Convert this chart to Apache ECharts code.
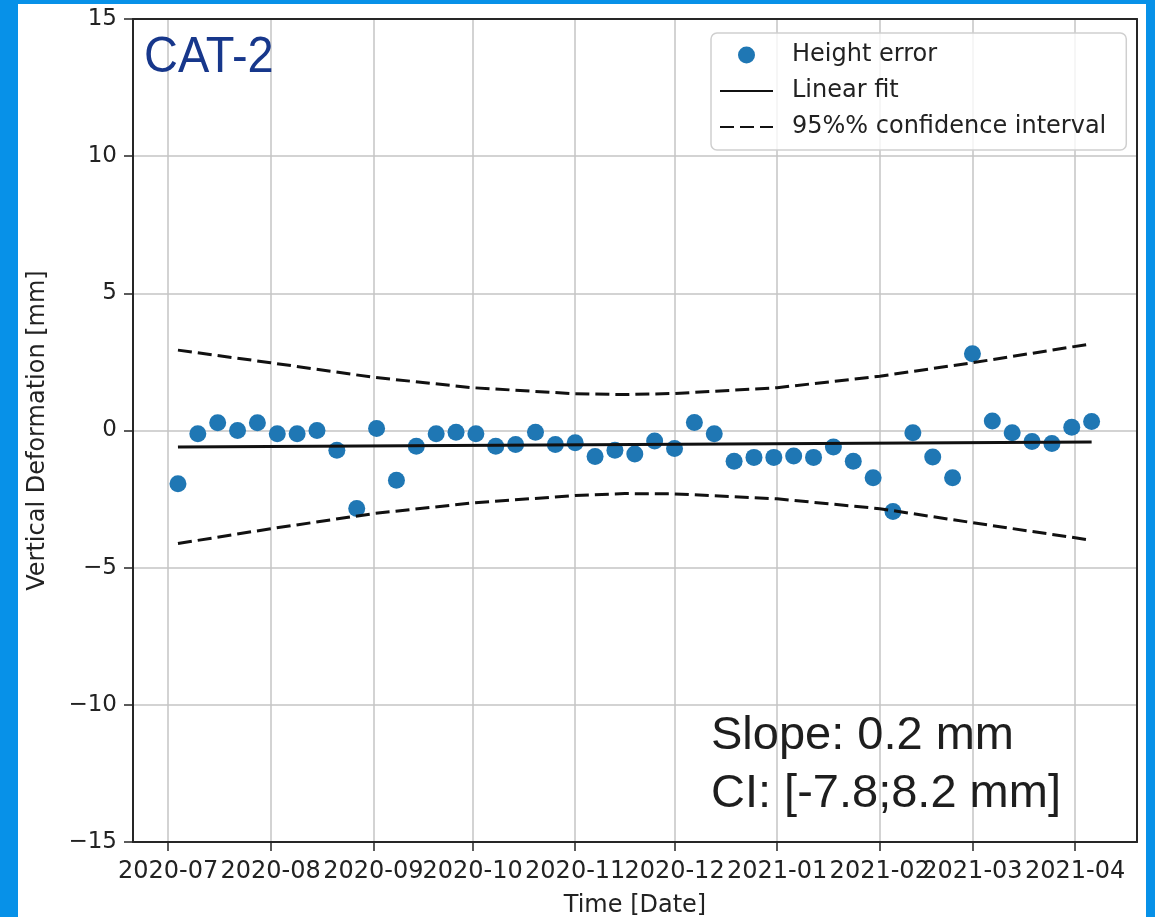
<!DOCTYPE html>
<html>
<head>
<meta charset="utf-8">
<script src="https://cdn.jsdelivr.net/npm/echarts@6/dist/echarts.min.js"></script>
<style>
  html, body { margin: 0; padding: 0; }
  body { width: 1155px; height: 917px; background: #0791e8; position: relative; overflow: hidden; }
  #paper { position: absolute; left: 18px; top: 4px; width: 1128px; height: 913px; background: #ffffff; }
  #chart { position: absolute; left: 0; top: 0; width: 1155px; height: 917px; }
</style>
</head>
<body>
<div id="paper"></div>
<div id="chart"></div>
<script>
// ---- data ----
const obsDates = [
  '2020-07-04','2020-07-10','2020-07-16','2020-07-22','2020-07-28',
  '2020-08-03','2020-08-09','2020-08-15','2020-08-21','2020-08-27',
  '2020-09-02','2020-09-08','2020-09-14','2020-09-20','2020-09-26',
  '2020-10-02','2020-10-08','2020-10-14','2020-10-20','2020-10-26',
  '2020-11-01','2020-11-07','2020-11-13','2020-11-19','2020-11-25',
  '2020-12-01','2020-12-07','2020-12-13','2020-12-19','2020-12-25',
  '2020-12-31','2021-01-06','2021-01-12','2021-01-18','2021-01-24',
  '2021-01-30','2021-02-05','2021-02-11','2021-02-17','2021-02-23',
  '2021-03-01','2021-03-07','2021-03-13','2021-03-19','2021-03-25',
  '2021-03-31','2021-04-06'
];
const heightError = [
  -1.94, -0.12, 0.28, 0.00, 0.28,
  -0.12, -0.12, 0.00, -0.72, -2.84,
  0.07, -1.81, -0.57, -0.12, -0.06,
  -0.12, -0.57, -0.51, -0.06, -0.51,
  -0.45, -0.95, -0.72, -0.86, -0.38,
  -0.66, 0.29, -0.12, -1.12, -0.98,
  -0.98, -0.93, -0.98, -0.60, -1.12,
  -1.72, -2.95, -0.08, -0.97, -1.72,
  2.80, 0.35, -0.08, -0.40, -0.47,
  0.12, 0.33
];
const fitDates = ['2020-07-04', '2021-04-06'];
const fitValues = [-0.60, -0.42];
const ciDates = ['2020-07-04','2020-08-01','2020-09-01','2020-10-01','2020-11-01','2020-11-16',
                 '2020-12-01','2021-01-01','2021-02-01','2021-03-01','2021-04-06'];
const ciUpper = [2.93, 2.47, 1.94, 1.56, 1.34, 1.31, 1.35, 1.56, 1.98, 2.47, 3.16];
const ciLower = [-4.12, -3.58, -3.03, -2.64, -2.37, -2.30, -2.31, -2.49, -2.85, -3.36, -4.00];
const yTicks = [-15, -10, -5, 0, 5, 10, 15];
const xRange = ['2020-06-20T10:00:00', '2021-04-19T17:00:00'];
const seriesNames = ['Height error', 'Linear fit', '95%% confidence interval'];
const axisNames = { x: 'Time [Date]', y: 'Vertical Deformation [mm]' };
const panelTitle = 'CAT-2';
const noteLines = ['Slope: 0.2 mm', 'CI: [-7.8;8.2 mm]'];

// ---- chart ----
const DAY = 86400000;
const pair = (xs, ys) => xs.map((d, i) => [d, ys[i]]);
const tickFont = 'DejaVu Sans';
const spine = { color: '#262626', width: 2 };
const chart = echarts.init(document.getElementById('chart'), null, { renderer: 'canvas' });

const hiddenAxisBits = {
  axisTick: { show: false }, axisLabel: { show: false }, splitLine: { show: false }
};

const option = {
  animation: false,
  backgroundColor: 'transparent',
  grid: {
    left: 133, right: 18, top: 19, bottom: 75,
    show: false, containLabel: false, outerBoundsMode: 'none'
  },
  xAxis: [
    {
      type: 'time',
      min: xRange[0], max: xRange[1],
      minInterval: 28 * DAY, maxInterval: 31 * DAY,
      name: axisNames.x, nameLocation: 'middle', nameGap: 52,
      nameTextStyle: { fontFamily: tickFont, fontSize: 24, color: '#222' },
      axisLine: { show: true, onZero: false, lineStyle: spine },
      axisTick: { show: true, inside: false, length: 9, lineStyle: { color: '#262626', width: 1.5 } },
      axisLabel: {
        formatter: '{yyyy}-{MM}', fontFamily: tickFont, fontSize: 24, color: '#222', margin: 18,
        showMinLabel: false, showMaxLabel: false, hideOverlap: false
      },
      splitLine: { show: true, lineStyle: { color: '#c4c4c4', width: 1.5 } },
      minorTick: { show: false }, minorSplitLine: { show: false }
    },
    Object.assign({
      type: 'time', position: 'top', min: xRange[0], max: xRange[1],
      axisLine: { show: true, onZero: false, lineStyle: spine }
    }, hiddenAxisBits)
  ],
  yAxis: [
    {
      type: 'value',
      min: yTicks[0], max: yTicks[yTicks.length - 1], interval: yTicks[1] - yTicks[0],
      name: axisNames.y, nameLocation: 'middle', nameGap: 83,
      nameTextStyle: { fontFamily: tickFont, fontSize: 24, color: '#222' },
      axisLine: { show: true, onZero: false, lineStyle: spine },
      axisTick: { show: true, inside: false, length: 9, lineStyle: { color: '#262626', width: 1.5 } },
      axisLabel: {
        fontFamily: tickFont, fontSize: 23, color: '#222', margin: 16,
        formatter: v => (v < 0 ? '\u2212' + Math.abs(v) : String(v))
      },
      splitLine: { show: true, lineStyle: { color: '#c4c4c4', width: 1.5 } }
    },
    Object.assign({
      type: 'value', position: 'right',
      min: yTicks[0], max: yTicks[yTicks.length - 1], interval: yTicks[1] - yTicks[0],
      axisLine: { show: true, onZero: false, lineStyle: spine }
    }, hiddenAxisBits)
  ],
  legend: {
    orient: 'vertical', left: 711, top: 33,
    itemWidth: 53, itemHeight: 17, itemGap: 12,
    padding: [10, 20, 11, 8],
    backgroundColor: 'rgba(255,255,255,0.8)', borderColor: '#cfcfcf', borderWidth: 1.5, borderRadius: 6,
    textStyle: { fontFamily: tickFont, fontSize: 24, color: '#222', padding: [0, 0, 0, 14] },
    data: [
      { name: seriesNames[0] },
      { name: seriesNames[1], itemStyle: { color: 'rgba(0,0,0,0)', borderWidth: 0, opacity: 0 } },
      { name: seriesNames[2], itemStyle: { color: 'rgba(0,0,0,0)', borderWidth: 0, opacity: 0 } }
    ]
  },
  series: [
    {
      name: seriesNames[0], type: 'scatter', z: 2,
      symbol: 'circle', symbolSize: 17,
      itemStyle: { color: '#1f77b4', opacity: 1 },
      data: pair(obsDates, heightError)
    },
    {
      name: seriesNames[1], type: 'line', z: 3,
      symbol: 'none', showSymbol: false,
      lineStyle: { color: '#111', width: 3, type: 'solid' },
      itemStyle: { color: '#111' },
      data: pair(fitDates, fitValues)
    },
    {
      name: seriesNames[2], type: 'line', z: 3,
      symbol: 'none', showSymbol: false,
      lineStyle: { color: '#111', width: 3, type: [14, 6] },
      itemStyle: { color: '#111' },
      data: pair(ciDates, ciUpper)
    },
    {
      name: seriesNames[2], type: 'line', z: 3,
      symbol: 'none', showSymbol: false,
      lineStyle: { color: '#111', width: 3, type: [14, 6] },
      itemStyle: { color: '#111' },
      data: pair(ciDates, ciLower)
    }
  ],
  graphic: [
    {
      type: 'text', x: 144, y: 33, scaleY: 1.08, z: 10,
      style: { text: panelTitle, font: '47px "Liberation Sans", Arial, sans-serif', fill: '#17378b', verticalAlign: 'top' }
    },
    {
      type: 'text', x: 711, y: 713, z: 10,
      style: { text: noteLines[0], font: '47px "Liberation Sans", Arial, sans-serif', fill: '#1e1e1e', verticalAlign: 'top' }
    },
    {
      type: 'text', x: 711, y: 771, z: 10,
      style: { text: noteLines[1], font: '47px "Liberation Sans", Arial, sans-serif', fill: '#1e1e1e', verticalAlign: 'top' }
    }
  ]
};
chart.setOption(option);
</script>
</body>
</html>
